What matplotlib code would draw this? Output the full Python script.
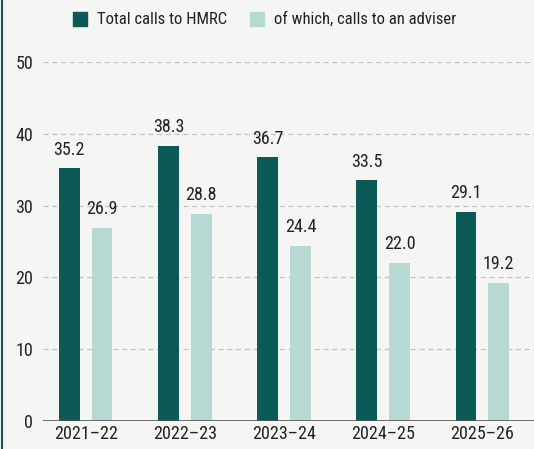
import numpy as np
import matplotlib.pyplot as plt
from matplotlib.lines import Line2D
from matplotlib.patches import Rectangle

# data
years = ["2021–22", "2022–23", "2023–24", "2024–25", "2025–26"]
total_calls = [35.2, 38.3, 36.7, 33.5, 29.1]
adviser_calls = [26.9, 28.8, 24.4, 22.0, 19.2]

dark = "#0b5a55"
light = "#b6dad3"
bg = "#f5f5f3"

plt.rcParams["font.family"] = ["Roboto Condensed", "Roboto", "DejaVu Sans"]

W, H = 534, 449
fig = plt.figure(figsize=(W / 100, H / 100), dpi=100, facecolor=bg)
ax = fig.add_axes([43 / W, 28 / H, 1 - 43 / W, (421 - 62) / H])
ax.set_facecolor(bg)

x = np.arange(len(years))
w = 0.21
off = 0.165
b1 = ax.bar(x - off, total_calls, w, color=dark, zorder=3)
b2 = ax.bar(x + off, adviser_calls, w, color=light, zorder=3)

for bars, vals in [(b1, total_calls), (b2, adviser_calls)]:
    for r, v in zip(bars, vals):
        ax.annotate(f"{v:.1f}", (r.get_x() + r.get_width() / 2, v), xytext=(0, 7),
                    textcoords="offset points", ha="center", va="bottom",
                    fontsize=13, color="#222222")

ax.set_ylim(0, 50)
ax.set_xlim(-0.43, 4.52)
ax.set_yticks([0, 10, 20, 30, 40, 50])
for yv in [10, 20, 30, 40, 50]:
    ax.axhline(yv, color="#c4c4c4", lw=0.9, ls=(0, (4, 3)), zorder=1)
ax.axhline(0, color="#555555", lw=1.2, zorder=4)

for s in ax.spines.values():
    s.set_visible(False)
ax.set_xticks(x)
ax.set_xticklabels(years)
ax.tick_params(axis="both", length=0, labelsize=13, colors="#222222")
ax.tick_params(axis="x", pad=3)
ax.tick_params(axis="y", pad=7)

# legend
legend_items = [("Total calls to HMRC", dark, 73), ("of which, calls to an adviser", light, 250)]
for label, col, px in legend_items:
    fig.add_artist(Rectangle((px / W, 1 - 26 / H), 14 / W, 14 / H, color=col,
                             transform=fig.transFigure))
    fig.text((px + 24) / W, 1 - 19 / H, label, fontsize=12, va="center", ha="left",
             color="#222222")

fig.add_artist(Line2D([2 / W, 2 / W], [0, 1], color=dark, lw=1.5))

fig.savefig("out.png", dpi=100, facecolor=bg)
